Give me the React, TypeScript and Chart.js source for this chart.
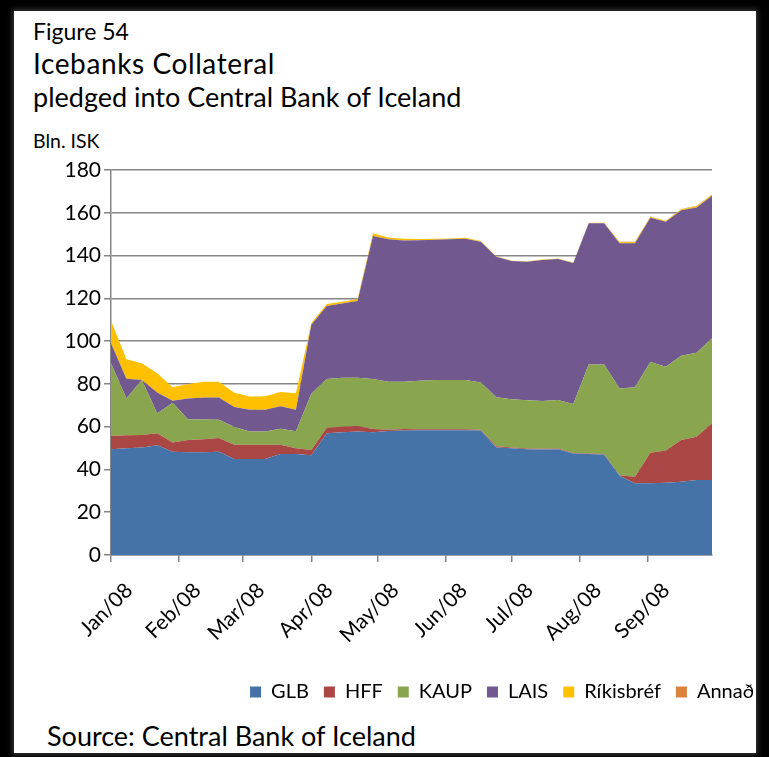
import React, { useEffect, useRef } from "react";
import { Chart, registerables } from "chart.js";
Chart.register(...registerables);

// Days since 1 Jan 2008, weekly observations
const weekDays = [0, 7, 14, 21, 28, 35, 42, 49, 56, 63, 70, 77, 84, 91, 98, 105, 112, 119, 126, 133, 140, 147, 154, 161, 168, 175, 182, 189, 196, 203, 210, 217, 224, 231, 238, 245, 252, 259, 266, 273];

const monthDays = [0, 31, 60, 91, 121, 152, 182, 213, 244];
const monthLabels = ["Jan/08", "Feb/08", "Mar/08", "Apr/08", "May/08", "Jun/08", "Jul/08", "Aug/08", "Sep/08"];

const glb = [49.4, 49.9, 50.3, 51.3, 48.3, 48.0, 48.0, 48.3, 44.9, 44.9, 44.9, 47.2, 47.2, 46.6, 56.9, 57.4, 57.7, 57.4, 58.0, 58.2, 58.3, 58.3, 58.3, 58.3, 58.2, 50.3, 49.9, 49.4, 49.3, 49.4, 47.4, 47.2, 47.0, 37.0, 33.5, 33.5, 33.8, 34.2, 35.1, 35.1];
const hff = [6.2, 6.1, 5.8, 5.6, 4.3, 5.8, 6.1, 6.4, 6.6, 6.6, 6.6, 4.4, 2.7, 2.5, 2.6, 2.6, 2.6, 1.5, 0.6, 0.7, 0.5, 0.5, 0.5, 0.5, 0.4, 0.5, 0.4, 0.4, 0.4, 0.4, 0.3, 0.2, 0.2, 0.3, 3.1, 14.3, 15.0, 19.6, 20.2, 26.5];
const kaup = [34.0, 17.2, 25.7, 9.3, 18.6, 9.6, 9.3, 8.5, 8.3, 6.2, 6.2, 7.4, 7.9, 26.3, 22.8, 22.9, 22.6, 23.4, 22.4, 22.1, 22.7, 23.0, 23.0, 23.0, 22.1, 22.9, 22.5, 22.5, 22.3, 22.7, 22.9, 41.7, 41.9, 40.6, 41.8, 42.4, 39.2, 39.4, 39.3, 39.7];
const lais = [9.4, 9.2, 0.0, 9.8, 0.9, 9.8, 10.2, 10.4, 9.4, 10.2, 10.2, 10.5, 10.1, 32.3, 34.1, 34.7, 35.9, 66.8, 66.6, 66.0, 65.7, 65.6, 65.8, 66.0, 65.8, 65.8, 64.6, 64.8, 65.9, 65.9, 65.9, 66.0, 66.0, 67.8, 67.3, 67.5, 67.8, 68.0, 67.9, 66.7];
const rikisbref = [10.5, 9.1, 7.8, 9.0, 6.3, 6.8, 7.4, 7.4, 6.6, 6.2, 6.3, 6.7, 7.7, 0.8, 0.9, 0.8, 0.9, 1.3, 0.9, 0.9, 0.5, 0.4, 0.4, 0.5, 0.3, 0.2, 0.2, 0.2, 0.2, 0.2, 0.2, 0.2, 0.2, 0.6, 0.6, 0.4, 0.3, 0.4, 0.5, 0.4];
const annad = [0, 0, 0, 0, 0, 0, 0, 0, 0, 0, 0, 0, 0, 0, 0, 0, 0, 0, 0, 0, 0, 0, 0, 0, 0, 0, 0, 0, 0, 0, 0, 0, 0, 0.2, 0.2, 0.2, 0.2, 0.2, 0.3, 0.2];

const yTicks = [0, 20, 40, 60, 80, 100, 120, 140, 160, 180];

const seriesNames = ["GLB", "HFF", "KAUP", "LAIS", "Ríkisbréf", "Annað"];
const seriesColors = ["#4572A7", "#AA4643", "#89A54E", "#71588F", "#FFC000", "#DB843D"];

const FONT = "Lato, 'Open Sans', sans-serif";

export default function App() {
  const ref = useRef<HTMLCanvasElement | null>(null);
  useEffect(() => {
    if (!ref.current) return;
    const all = [glb, hff, kaup, lais, rikisbref, annad];
    const datasets = all.map((vals, k) => ({
      label: seriesNames[k],
      data: weekDays.map((d, i) => ({ x: d, y: vals[i] })),
      backgroundColor: seriesColors[k],
      borderColor: seriesColors[k],
      borderWidth: 0,
      pointRadius: 0,
      pointHoverRadius: 0,
      tension: 0,
      fill: k === 0 ? "origin" : "-1",
    }));
    const chart = new Chart(ref.current, {
      type: "line",
      data: { datasets: datasets as any },
      options: {
        animation: false,
        responsive: false,
        maintainAspectRatio: false,
        layout: { padding: { top: 20, left: 0, right: 0, bottom: 0 } },
        plugins: {
          tooltip: { enabled: false },
          legend: {
            position: "bottom",
            align: "end",
            labels: {
              boxWidth: 11,
              boxHeight: 11,
              padding: 15,
              color: "#000",
              font: { family: FONT, size: 20 },
            },
          },
        },
        scales: {
          x: {
            type: "linear",
            min: 0,
            max: 273,
            afterBuildTicks: (s: any) => {
              s.ticks = monthDays.map((v) => ({ value: v }));
            },
            afterFit: (s: any) => {
              s.height = 112;
            },
            ticks: {
              autoSkip: false,
              maxRotation: 45,
              minRotation: 45,
              color: "#000",
              font: { family: FONT, size: 21 },
              padding: 16,
              labelOffset: 18,
              callback: (v: any) => {
                const idx = monthDays.indexOf(Number(v));
                return idx >= 0 ? monthLabels[idx] : "";
              },
            },
            grid: { drawOnChartArea: false, drawTicks: true, tickLength: 7, color: "#858585", lineWidth: 1.5 },
            border: { color: "#858585", width: 1.5 },
          },
          y: {
            stacked: true,
            min: 0,
            max: 180,
            afterBuildTicks: (s: any) => {
              s.ticks = yTicks.map((v) => ({ value: v }));
            },
            afterFit: (s: any) => {
              s.width = 97;
            },
            ticks: {
              color: "#000",
              font: { family: FONT, size: 21 },
              padding: 3,
            },
            grid: { color: "#858585", lineWidth: 1.5, tickLength: 7 },
            border: { color: "#858585", width: 1.5 },
          },
          y2: {
            type: "linear",
            position: "right",
            display: true,
            grid: { display: false, drawTicks: false },
            ticks: { display: false },
            border: { display: false },
            afterFit: (s: any) => {
              s.width = 57;
            },
          },
        },
      } as any,
    });
    return () => chart.destroy();
  }, []);

  return (
    <div style={{ position: "fixed", left: 0, top: 0, width: 769, height: 757, background: "#000", overflow: "hidden" }}>
      <div
        style={{
          position: "absolute",
          left: 14,
          top: 11,
          width: 742,
          height: 742,
          background: "#fff",
          boxShadow: "0 0 5px 2px #333",
        }}
      />
      <div style={{ position: "absolute", left: 33, top: 17, fontFamily: FONT, fontSize: 23, color: "#000", lineHeight: "28px" }}>
        Figure 54
      </div>
      <div style={{ position: "absolute", left: 33, top: 46, fontFamily: FONT, fontSize: 28, letterSpacing: 0.6, color: "#000", lineHeight: "34px" }}>
        Icebanks Collateral
      </div>
      <div style={{ position: "absolute", left: 33, top: 80, fontFamily: FONT, fontSize: 27, color: "#000", lineHeight: "34px" }}>
        pledged into Central Bank of Iceland
      </div>
      <div style={{ position: "absolute", left: 33, top: 128, fontFamily: FONT, fontSize: 19.5, color: "#000", lineHeight: "26px" }}>
        Bln. ISK
      </div>
      <div style={{ position: "absolute", left: 47, top: 720, fontFamily: FONT, fontSize: 27, color: "#000", lineHeight: "32px" }}>
        Source: Central Bank of Iceland
      </div>
      <canvas ref={ref} width={755} height={562} style={{ position: "absolute", left: 14, top: 150, width: 755, height: 562 }} />
    </div>
  );
}
